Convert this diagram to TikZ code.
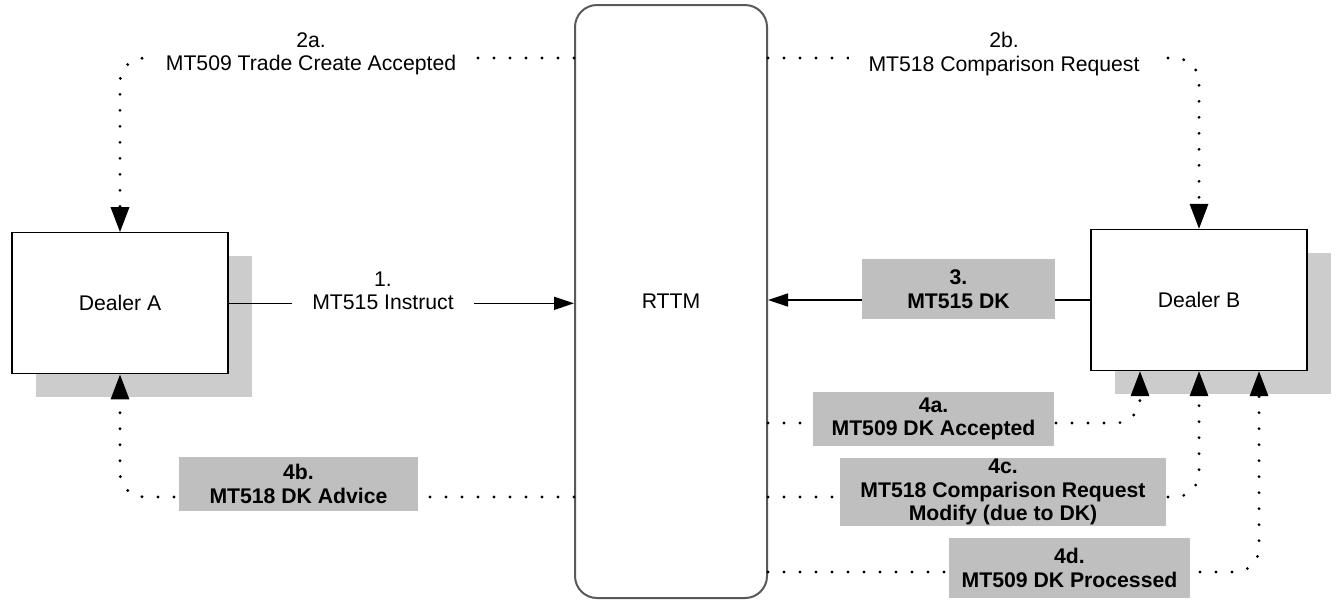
\documentclass[tikz,border=0pt]{standalone}
\usepackage{fontspec}
\setmainfont{Liberation Sans}
\usetikzlibrary{arrows.meta,shadows}

\begin{document}
\begin{tikzpicture}[x=0.5pt,y=-0.5pt,
    font=\fontsize{10.6}{11.75}\selectfont,
    dealer/.style={draw,fill=white,line width=0.6pt,minimum width=108pt,minimum height=70.5pt,
      drop shadow={shadow xshift=11.75pt,shadow yshift=-11.75pt,fill=black!20,opacity=1}},
    hub/.style={draw=black!65,line width=1pt,rounded corners=11pt,minimum width=96pt,minimum height=296.5pt},
    msg/.style={line width=0.75pt,-{Triangle[length=10pt,width=6.5pt]}},
    dotmsg/.style={line width=1.6pt,line cap=round,dash pattern=on 0pt off 8pt,rounded corners=12pt,
      -{Triangle[length=12.5pt,width=9pt]}},
    plainlbl/.style={fill=white,align=center,inner xsep=10pt,inner ysep=1pt},
    greylbl/.style={fill=black!25,align=center,inner sep=0pt,font=\fontsize{10.6}{11.75}\selectfont\bfseries}]
  \useasboundingbox (0,0) rectangle (1336,602);

  \node[hub] (rttm) at (671,301.5) {RTTM};
  \node[dealer] (dealerA) at (120,303.3) {Dealer A};
  \node[dealer] (dealerB) at (1199,300) {Dealer B};

  % 1. and 3.
  \draw[msg] (dealerA.east) -- (rttm.west |- dealerA.east);
  \node[plainlbl] (lbl1) at (383,291) {1.\\MT515 Instruct};
  \draw[msg] (dealerB.west) -- (rttm.east |- dealerB.west);
  \node[greylbl,minimum width=96.5pt,minimum height=30pt] (lbl3) at (958.5,289) {3.\\MT515 DK};

  % 2a. and 2b.
  \draw[dotmsg] (rttm.west |- 0,58) -| (dealerA.north);
  \node[plainlbl] (lbl2a) at (311,54) {2a.\\MT509 Trade Create Accepted};
  \draw[dotmsg] (rttm.east |- 0,58) -| (dealerB.north);
  \node[plainlbl] (lbl2b) at (1004,54) {2b.\\MT518 Comparison Request};

  % 4a. to 4d.
  \draw[dotmsg] (rttm.east |- 0,423) -| ([xshift=-29.5pt]dealerB.south);
  \node[greylbl,minimum width=120.5pt,minimum height=27pt] (lbl4a) at (933.5,419) {4a.\\MT509 DK Accepted};
  \draw[dotmsg] (rttm.west |- 0,497) -| (dealerA.south);
  \node[greylbl,minimum width=119.5pt,minimum height=27pt] (lbl4b) at (298.5,484) {4b.\\MT518 DK Advice};
  \draw[dotmsg] (rttm.east |- 0,497) -| (dealerB.south);
  \node[greylbl,minimum width=163pt,minimum height=34pt] (lbl4c) at (1003,492) {4c.\\MT518 Comparison Request\\Modify (due to DK)};
  \draw[dotmsg] (rttm.east |- 0,572) -| ([xshift=30pt]dealerB.south);
  \node[greylbl,minimum width=120.5pt,minimum height=30pt] (lbl4d) at (1069.5,568) {4d.\\MT509 DK Processed};
\end{tikzpicture}
\end{document}
